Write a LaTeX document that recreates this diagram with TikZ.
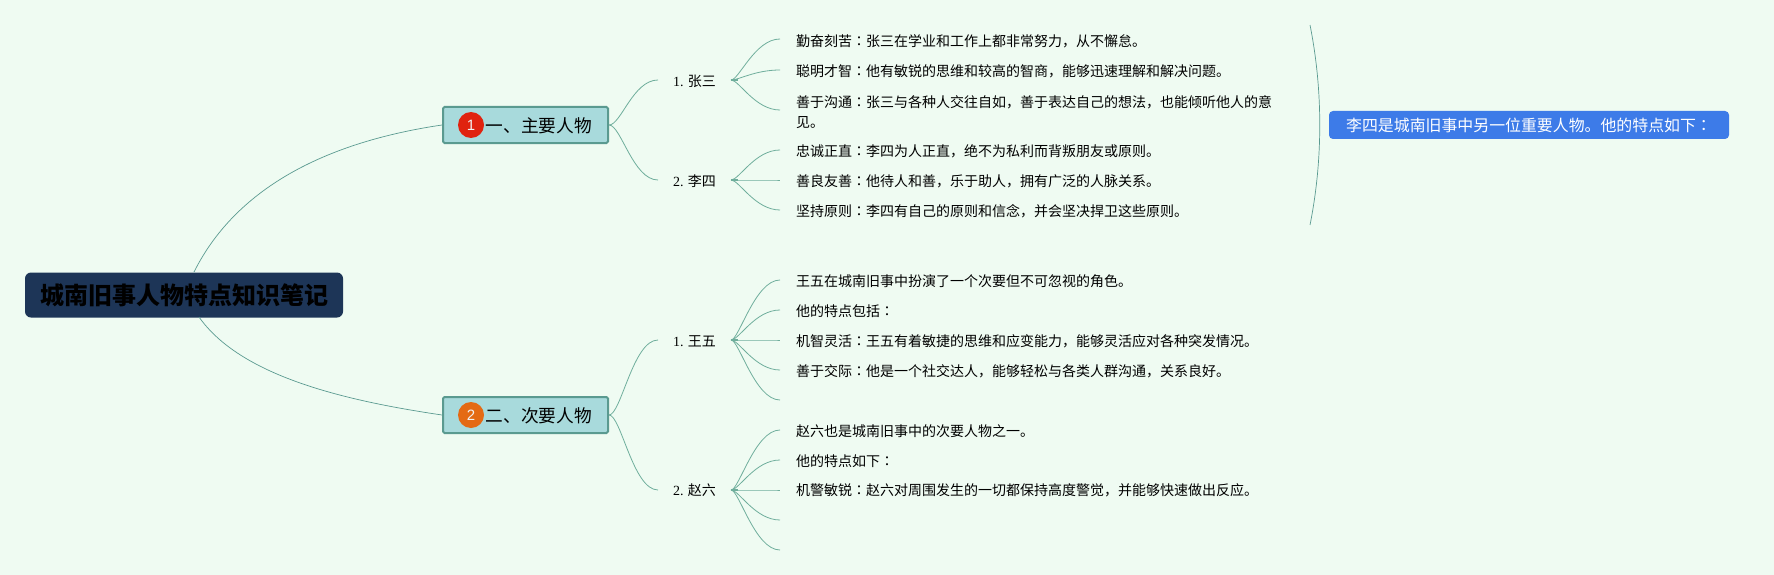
\documentclass[tikz,border=0pt]{standalone}
\usepackage{fontspec}
\setmainfont{Noto Sans CJK SC}
\newfontfamily\jpfont{Noto Sans CJK JP}
\newfontfamily\numfont{Liberation Serif}
\newfontfamily\badgefont{Liberation Sans}
\newcommand{\cln}{{\jpfont ：}}
\definecolor{bgc}{HTML}{EFFBF2}
\definecolor{rootc}{HTML}{1D3557}
\definecolor{topicc}{HTML}{A8DADC}
\definecolor{topicb}{HTML}{5A9A90}
\definecolor{linec}{HTML}{6FAE9C}
\definecolor{bluec}{HTML}{3D7BE8}
\definecolor{redc}{HTML}{E0230F}
\definecolor{orangec}{HTML}{E46A14}
\tikzset{
  rootbox/.style={fill=rootc,rounded corners=6pt,minimum width=318pt,minimum height=45pt,inner sep=0pt,text=black,font=\fontsize{24}{24}\selectfont\bfseries},
  topicbox/.style={fill=topicc,draw=topicb,line width=2pt,rounded corners=1.5pt,minimum width=165pt,minimum height=36pt,inner sep=0pt},
  topictext/.style={inner sep=0pt,anchor=west,font=\fontsize{17.7}{18}\selectfont},
  badge/.style={circle,minimum size=26pt,inner sep=0pt,text=white!90!gray,font=\badgefont\fontsize{15}{15}\selectfont},
  sublabel/.style={inner sep=0pt,anchor=west,font=\fontsize{14}{14}\selectfont},
  leaf/.style={inner sep=0pt,anchor=west,align=left,font=\fontsize{14}{20}\selectfont},
  notebox/.style={fill=bluec,rounded corners=4pt,minimum width=400pt,minimum height=28pt,inner sep=0pt,text=white,font=\fontsize{15.9}{16}\selectfont},
  conn/.style={draw=linec,line width=0.8pt},
  thinconn/.style={draw=topicb,line width=0.7pt}
}
\begin{document}
\begin{tikzpicture}[x=1pt,y=-1pt]
\path[use as bounding box,fill=bgc] (0,0) rectangle (1774,575);

\node[rootbox] (root) at (184,295) {城南旧事人物特点知识笔记};
\node[topicbox] (t1) at (525.5,125) {};
\node[topicbox] (t2) at (525.5,415) {};
\node[badge,fill=redc] (b1) at (471,125) {1};
\node[badge,fill=orangec] (b2) at (471,415) {2};
\node[topictext] (t1t) at (485.5,126) {一、主要人物};
\node[topictext] (t2t) at (485.5,416) {二、次要人物};

\node[sublabel] (zs) at (673,81) {{\numfont 1.} 张三};
\node[sublabel] (ls) at (673,181) {{\numfont 2.} 李四};
\node[sublabel] (ww) at (673,341) {{\numfont 1.} 王五};
\node[sublabel] (zl) at (673,490) {{\numfont 2.} 赵六};

\node[leaf] (a1) at (796,41) {勤奋刻苦\cln 张三在学业和工作上都非常努力，从不懈怠。};
\node[leaf] (a2) at (796,71) {聪明才智\cln 他有敏锐的思维和较高的智商，能够迅速理解和解决问题。};
\node[leaf] (a3) at (796,112) {善于沟通\cln 张三与各种人交往自如，善于表达自己的想法，也能倾听他人的意\\见。};
\node[leaf] (b4) at (796,151) {忠诚正直\cln 李四为人正直，绝不为私利而背叛朋友或原则。};
\node[leaf] (b5) at (796,181) {善良友善\cln 他待人和善，乐于助人，拥有广泛的人脉关系。};
\node[leaf] (b6) at (796,211) {坚持原则\cln 李四有自己的原则和信念，并会坚决捍卫这些原则。};
\node[leaf] (c1) at (796,281) {王五在城南旧事中扮演了一个次要但不可忽视的角色。};
\node[leaf] (c2) at (796,311) {他的特点包括\cln};
\node[leaf] (c3) at (796,341) {机智灵活\cln 王五有着敏捷的思维和应变能力，能够灵活应对各种突发情况。};
\node[leaf] (c4) at (796,371) {善于交际\cln 他是一个社交达人，能够轻松与各类人群沟通，关系良好。};
\node[leaf] (d1) at (796,431) {赵六也是城南旧事中的次要人物之一。};
\node[leaf] (d2) at (796,461) {他的特点如下\cln};
\node[leaf] (d3) at (796,490) {机警敏锐\cln 赵六对周围发生的一切都保持高度警觉，并能够快速做出反应。};

\node[notebox] (note) at (1529,125) {李四是城南旧事中另一位重要人物。他的特点如下\cln};

% anchor points
\coordinate (rtop) at (194,272);
\coordinate (rbot) at (199,317);
\coordinate (zsin) at (658,80);
\coordinate (lsin) at (658,180);
\coordinate (wwin) at (658,340);
\coordinate (zlin) at (658,490);
\coordinate (zso) at (731,80);
\coordinate (lso) at (731,180);
\coordinate (wwo) at (731,340);
\coordinate (zlo) at (731,490);
\coordinate (e1) at (780,39);
\coordinate (e2) at (780,70);
\coordinate (e3) at (780,110);
\coordinate (e4) at (780,150);
\coordinate (e5) at (780,180);
\coordinate (e6) at (780,210);
\coordinate (f1) at (780,280);
\coordinate (f2) at (780,310);
\coordinate (f3) at (780,340);
\coordinate (f4) at (780,370);
\coordinate (f5) at (780,400);
\coordinate (g1) at (780,430);
\coordinate (g2) at (780,460);
\coordinate (g3) at (780,490);
\coordinate (g4) at (780,520);
\coordinate (g5) at (780,550);
\coordinate (bt) at (1310,25);
\coordinate (bb) at (1310,225);

% root connectors
\draw[thinconn] (rtop) .. controls (240,180) and (340,140) .. (t1.west);
\draw[thinconn] (rbot) .. controls (240,375) and (340,400) .. (t2.west);

% topic to sub
\foreach \s/\e in {t1/zsin,t1/lsin,t2/wwin,t2/zlin}
  \draw[conn] (\s.east) .. controls +(12,0) and +(-25,0) .. (\e);

% fans
\foreach \o/\e in {zso/e1,zso/e2,zso/e3,lso/e4,lso/e5,lso/e6,
                   wwo/f1,wwo/f2,wwo/f3,wwo/f4,wwo/f5,
                   zlo/g1,zlo/g2,zlo/g3,zlo/g4,zlo/g5}
  \draw[conn] (\o) .. controls +(8,0) and +(-25,0) .. (\e);

% thick stubs at fan origins
\foreach \o in {zso,lso,wwo,zlo}
  \draw[draw=linec,line width=1.8pt] (\o) -- +(7,0);

% bracket
\draw[thinconn] (bt) .. controls (1323,90) and (1323,160) .. (bb);
\end{tikzpicture}
\end{document}
